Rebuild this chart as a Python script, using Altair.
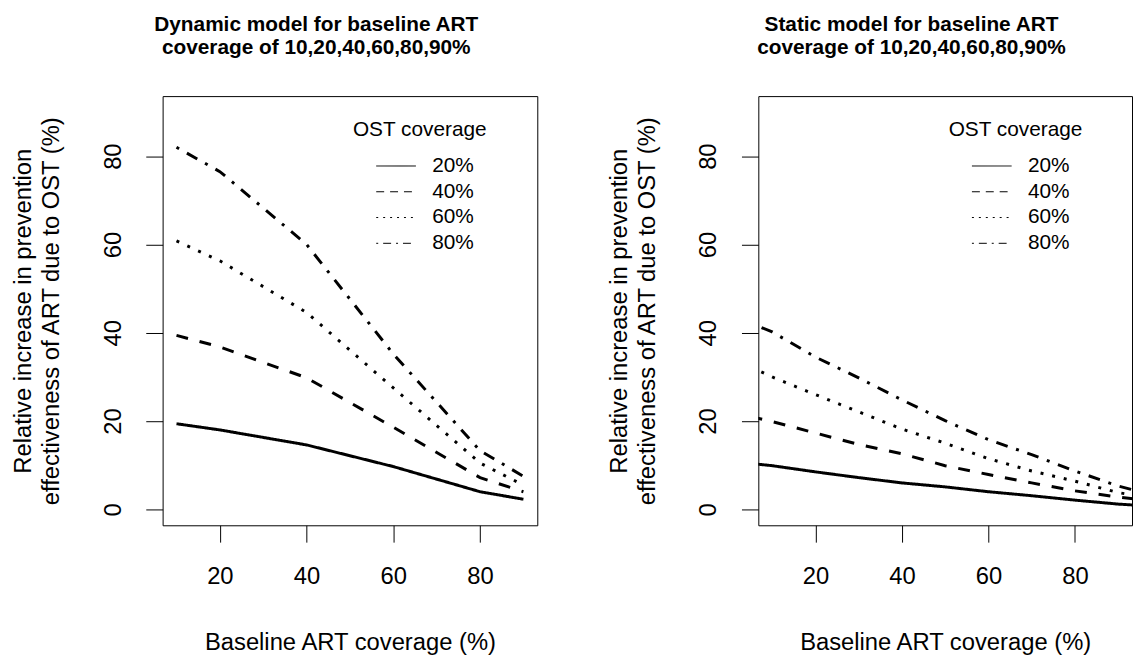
import altair as alt
import pandas as pd

# Dynamic model: baseline ART coverage (%)
x_dyn = [10, 20, 40, 60, 80, 90]
dyn_20 = [19.4, 18.0, 14.6, 9.7, 4.0, 2.3]
dyn_40 = [39.4, 36.8, 29.8, 18.6, 7.2, 4.0]
dyn_60 = [60.8, 56.3, 44.6, 27.5, 10.5, 5.5]
dyn_80 = [82.0, 76.5, 60.0, 35.2, 13.3, 7.5]

# Static model: baseline ART coverage (%)
x_sta = [5, 10, 20, 30, 40, 50, 60, 70, 80, 90, 95]
sta_20 = [10.4, 9.9, 8.5, 7.2, 6.0, 5.1, 4.0, 3.1, 2.1, 1.2, 0.9]
sta_40 = [21.0, 19.9, 17.3, 14.7, 12.6, 9.9, 7.9, 6.0, 4.2, 2.8, 2.2]
sta_60 = [32.3, 30.0, 26.0, 22.1, 18.2, 15.0, 11.5, 8.7, 6.4, 3.8, 3.0]
sta_80 = [42.2, 40.2, 34.5, 29.8, 24.8, 20.1, 15.8, 12.4, 8.7, 5.3, 4.0]

ost_levels = ["20%", "40%", "60%", "80%"]
x_ticks = [20, 40, 60, 80]
y_ticks = [0, 20, 40, 60, 80]

FONT = "Liberation Sans"


def long_df(xs, series):
    rows = []
    for lvl, ys in zip(ost_levels, series):
        for xv, yv in zip(xs, ys):
            rows.append({"x": xv, "y": yv, "ost": lvl})
    return pd.DataFrame(rows)


df_dyn = long_df(x_dyn, [dyn_20, dyn_40, dyn_60, dyn_80])
df_sta = long_df(x_sta, [sta_20, sta_40, sta_60, sta_80])


def panel(df, title_lines, ytitle, width):
    x_enc = alt.X("x:Q",
                  scale=alt.Scale(domain=[6.8, 93.2], nice=False, zero=False),
                  axis=alt.Axis(values=x_ticks, title="Baseline ART coverage (%)",
                                grid=False, domain=False, tickSize=17, tickColor="black",
                                tickWidth=1, labelFont=FONT, labelFontSize=24,
                                labelColor="black", labelBaseline="alphabetic",
                                labelPadding=42, labelFlush=False, labelOverlap=False,
                                titleFont=FONT, titleFontSize=24, titleFontWeight="normal",
                                titleColor="black", titleBaseline="alphabetic", titleY=125))
    y_enc = alt.Y("y:Q",
                  scale=alt.Scale(domain=[-3.6, 93.6], nice=False, zero=False),
                  axis=alt.Axis(values=y_ticks, title=ytitle,
                                grid=False, domain=False, tickSize=17, tickColor="black",
                                tickWidth=1, labelFont=FONT, labelFontSize=24,
                                labelColor="black", labelAngle=270, labelAlign="center",
                                labelBaseline="alphabetic", labelPadding=26,
                                labelFlush=False, labelOverlap=False,
                                titleFont=FONT, titleFontSize=24, titleFontWeight="normal",
                                titleColor="black", titleAngle=270, titleAlign="center",
                                titleBaseline="alphabetic", titleLineHeight=28, titleX=-133))

    # visible curves (thick, long dashes)
    curves = alt.Chart(df).mark_line(color="black", strokeWidth=3, clip=True).encode(
        x=x_enc, y=y_enc,
        strokeDash=alt.StrokeDash(
            "ost:N",
            scale=alt.Scale(domain=ost_levels,
                            range=[[1, 0], [12, 12], [3, 9], [3, 9, 12, 9]]),
            legend=None),
    )
    # legend carrier (thin, short dashes, transparent lines)
    key = alt.Chart(df).mark_line(color="black", strokeWidth=1, opacity=0, clip=True).encode(
        x=x_enc, y=y_enc,
        strokeDash=alt.StrokeDash(
            "ost:N",
            scale=alt.Scale(domain=ost_levels,
                            range=[[1, 0], [8, 6], [2, 5], [2, 5, 8, 5]]),
            legend=alt.Legend(orient="none", legendX=192, legendY=23,
                              title="OST coverage", titleFont=FONT, titleFontSize=21,
                              titleFontWeight="normal", titleColor="black",
                              titlePadding=16, labelFont=FONT, labelFontSize=21,
                              labelColor="black", labelOffset=16,
                              symbolType="stroke", symbolSize=1600,
                              symbolStrokeWidth=1, symbolStrokeColor="black",
                              symbolOpacity=1,
                              symbolOffset=23, rowPadding=4.0, clipHeight=21,
                              padding=0)),
    )
    return alt.layer(curves, key).resolve_scale(strokeDash="independent").properties(
        width=width, height=433,
        title=alt.TitleParams(text=title_lines, font=FONT, fontSize=21,
                              fontWeight="bold", color="black", lineHeight=24,
                              offset=38, dx=-34, anchor="middle"),
    )


left = panel(df_dyn,
             ["Dynamic model for baseline ART", " coverage of 10,20,40,60,80,90%"],
             ["Relative increase in prevention", "effectiveness of ART due to OST (%)"],
             378)
right = panel(df_sta,
              ["Static model for baseline ART", "coverage of 10,20,40,60,80,90%"],
              ["Relative increase in prevention", "effectiveness  of ART due to OST (%)"],
              377)

chart = alt.hconcat(left, right, spacing=223, bounds="flush").resolve_scale(
    x="independent", y="independent", strokeDash="independent"
).resolve_legend(strokeDash="independent").configure_view(
    stroke="black", strokeWidth=1
).properties(
    padding={"left": 3, "top": 2, "right": 0, "bottom": 0},
    background="white",
)

chart.save("out.html", embed_options={"renderer": "svg", "actions": False})
